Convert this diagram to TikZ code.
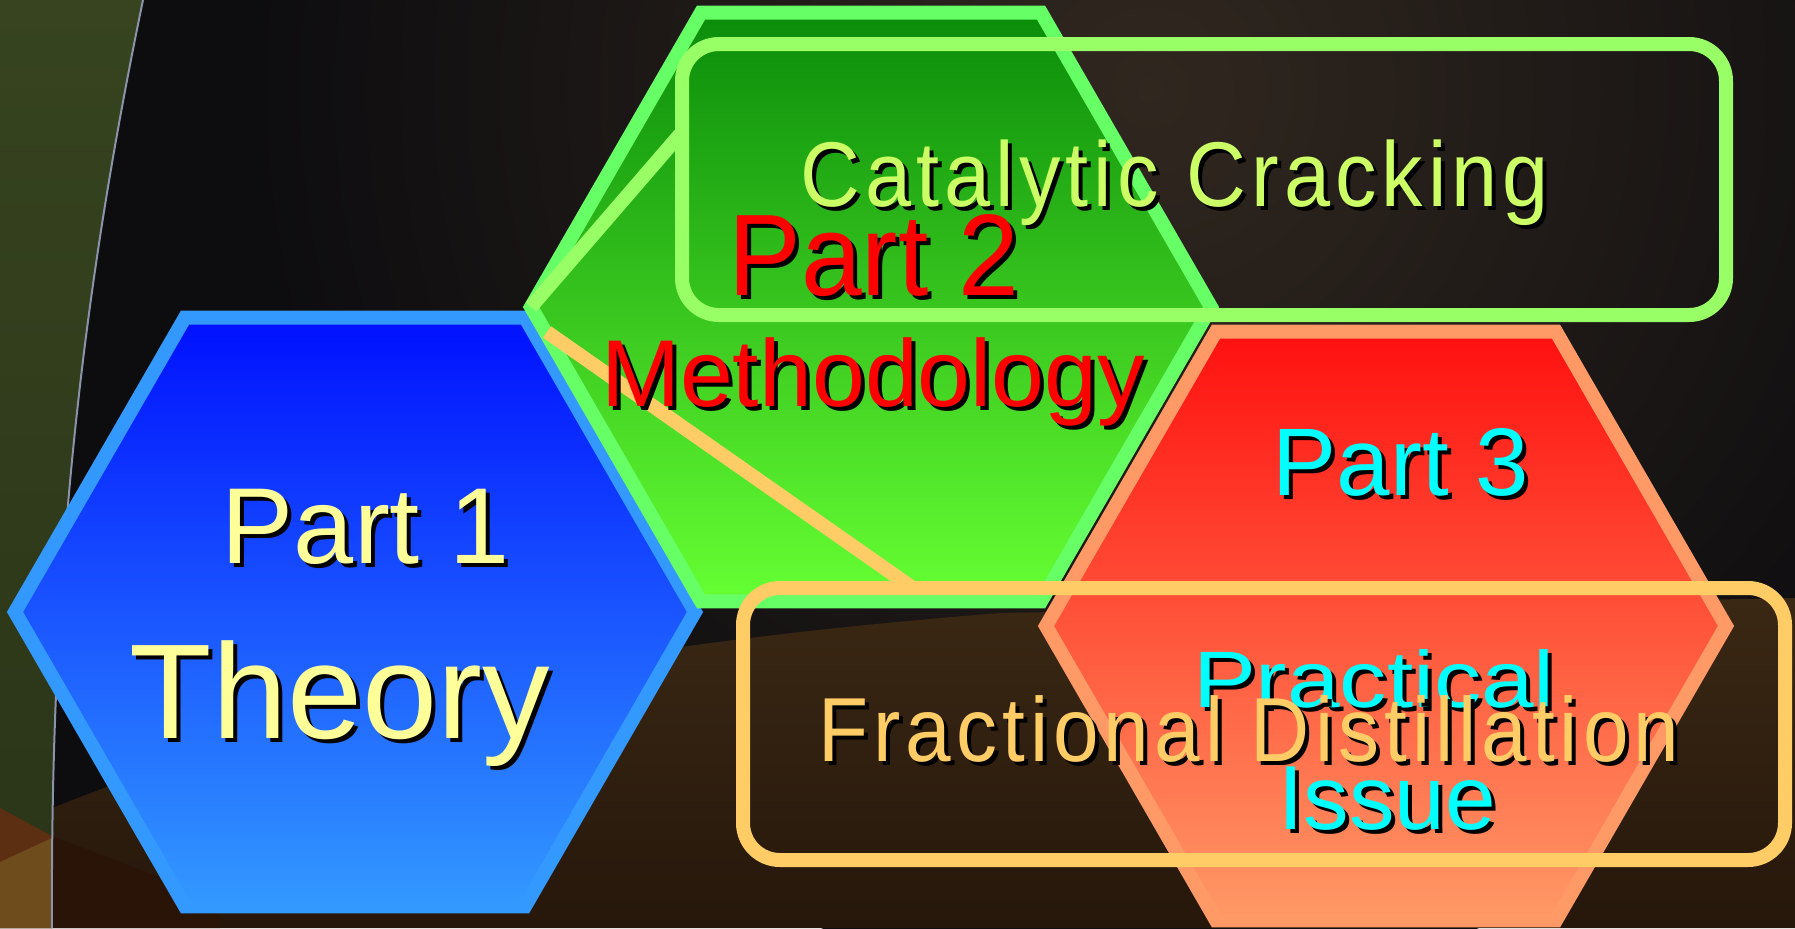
\documentclass[tikz,border=0pt]{standalone}
\usepackage{fontspec}
\setmainfont{Liberation Sans}
\newfontfamily\narrowfont[FakeStretch=0.9,LetterSpace=5.5]{Liberation Sans}
\newfontfamily\tallfont[FakeStretch=0.94]{Liberation Sans}
\newfontfamily\widefont[FakeStretch=1.18]{Liberation Sans}
\usepackage{tikz}
\usetikzlibrary{shapes.geometric,calc}

\definecolor{bgdark}{HTML}{0D0C0F}
\definecolor{bgglow}{HTML}{30271F}
\definecolor{groundtop}{HTML}{3A2814}
\definecolor{ground}{HTML}{26170B}
\definecolor{olivetop}{HTML}{37441F}
\definecolor{olivebot}{HTML}{2A3418}
\definecolor{rustband}{HTML}{5C2E12}
\definecolor{ochre}{HTML}{6E4C1C}
\definecolor{darkrust}{HTML}{2A1408}
\definecolor{arcgrey}{HTML}{8A93A8}
\definecolor{blueedge}{HTML}{3399FF}
\definecolor{bluetop}{HTML}{0010FF}
\definecolor{greenedge}{HTML}{66FF66}
\definecolor{greentop}{HTML}{0A8C0A}
\definecolor{greenbot}{HTML}{66FF33}
\definecolor{rededge}{HTML}{FF9966}
\definecolor{redtop}{HTML}{FF1010}
\definecolor{crackedge}{HTML}{99FF66}
\definecolor{cracktext}{HTML}{CCFF66}
\definecolor{distedge}{HTML}{FFCC66}
\definecolor{parttext}{HTML}{FFFF99}
\definecolor{methodtext}{HTML}{FF0000}
\definecolor{practicetext}{HTML}{00FFFF}

\newcommand{\txtsize}[1]{\fontsize{#1}{#1}\selectfont}
% text with a black drop shadow
\newcommand{\shadowlabel}[5]{%
  \node[txt, font=#3, text=black, xshift=2pt, yshift=-2pt] (#1-shadow) at (#2) {#5};
  \node[txt, font=#3, text=#4] (#1) at (#2) {#5};
}

\tikzset{
  hexagon/.style={regular polygon, regular polygon sides=6, minimum size=340pt,
    inner sep=0pt, outer sep=0pt, line width=7pt, line join=miter},
  callout/.style={rounded corners=18.5pt, line width=7pt, inner sep=0pt, outer sep=0pt},
  pointer/.style={line width=7pt},
  txt/.style={anchor=base, inner sep=0pt, outer sep=0pt},
}

\begin{document}
\begin{tikzpicture}[x=0.5pt,y=-0.5pt]
\useasboundingbox (0,0) rectangle (1795,928);
\clip (0,0) rectangle (1795,928);

% background
\fill[bgdark] (0,0) rectangle (1795,928);
\shade[inner color=bgglow, outer color=bgdark] (1150,90) circle [radius=900];
\shade[top color=groundtop, bottom color=ground]
  (0,830) .. controls (300,700) and (600,645) .. (1000,613) -- (1795,598)
  -- (1795,928) -- (0,928) -- cycle;
\shade[top color=olivetop, bottom color=olivebot]
  (0,0) -- (143,0) .. controls (85,280) and (50,560) .. (52,928) -- (0,928) -- cycle;
\fill[rustband] (0,808) -- (52,836) -- (52,928) -- (0,928) -- cycle;
\fill[ochre] (0,862) -- (52,838) -- (52,928) -- (0,928) -- cycle;
\fill[darkrust] (52,836) -- (220,900) -- (220,928) -- (52,928) -- cycle;
\draw[arcgrey, line width=1pt] (143,0) .. controls (85,280) and (50,560) .. (52,928);

% hexagons
\node[hexagon, draw=blueedge, top color=bluetop, bottom color=blueedge] (theory) at (355,612) {};
\node[hexagon, draw=greenedge, top color=greentop, bottom color=greenbot] (method) at (871,307) {};
\node[hexagon, draw=rededge, top color=redtop, bottom color=rededge] (practice) at (1386,626) {};

% callouts
\node[callout, draw=crackedge, minimum width=522pt, minimum height=135.5pt] (crack) at (1204,179.5) {};
\node[callout, draw=distedge, minimum width=521pt, minimum height=136pt] (dist) at (1264,724) {};
\coordinate (disttip) at (547,332);
\draw[pointer, crackedge] ($(crack.north west)!0.325!(crack.south west)$) -- (method.west);
\draw[pointer, distedge] ($(dist.north west)!0.163!(dist.north east)$) -- (disttip);

% labels
\shadowlabel{part1}{366,563}{\txtsize{54pt}}{parttext}{Part 1}
\shadowlabel{theorylbl}{340,738}{\txtsize{67.5pt}}{parttext}{Theory}
\shadowlabel{part2}{874,295}{\tallfont\txtsize{58pt}}{methodtext}{Part 2}
\shadowlabel{methodlbl}{873,406}{\txtsize{47.5pt}}{methodtext}{Methodology}
\shadowlabel{part3}{1401,495}{\txtsize{48pt}}{practicetext}{Part 3}
\shadowlabel{practical}{1374,707}{\widefont\txtsize{40pt}}{practicetext}{Practical}
\shadowlabel{issue}{1387,829}{\txtsize{45.5pt}}{practicetext}{Issue}
\shadowlabel{cracklbl}{1175,206}{\narrowfont\txtsize{46pt}}{cracktext}{Catalytic Cracking}
\shadowlabel{distlbl}{1249,761}{\narrowfont\txtsize{45.5pt}}{distedge}{Fractional Distillation}
\end{tikzpicture}
\end{document}
